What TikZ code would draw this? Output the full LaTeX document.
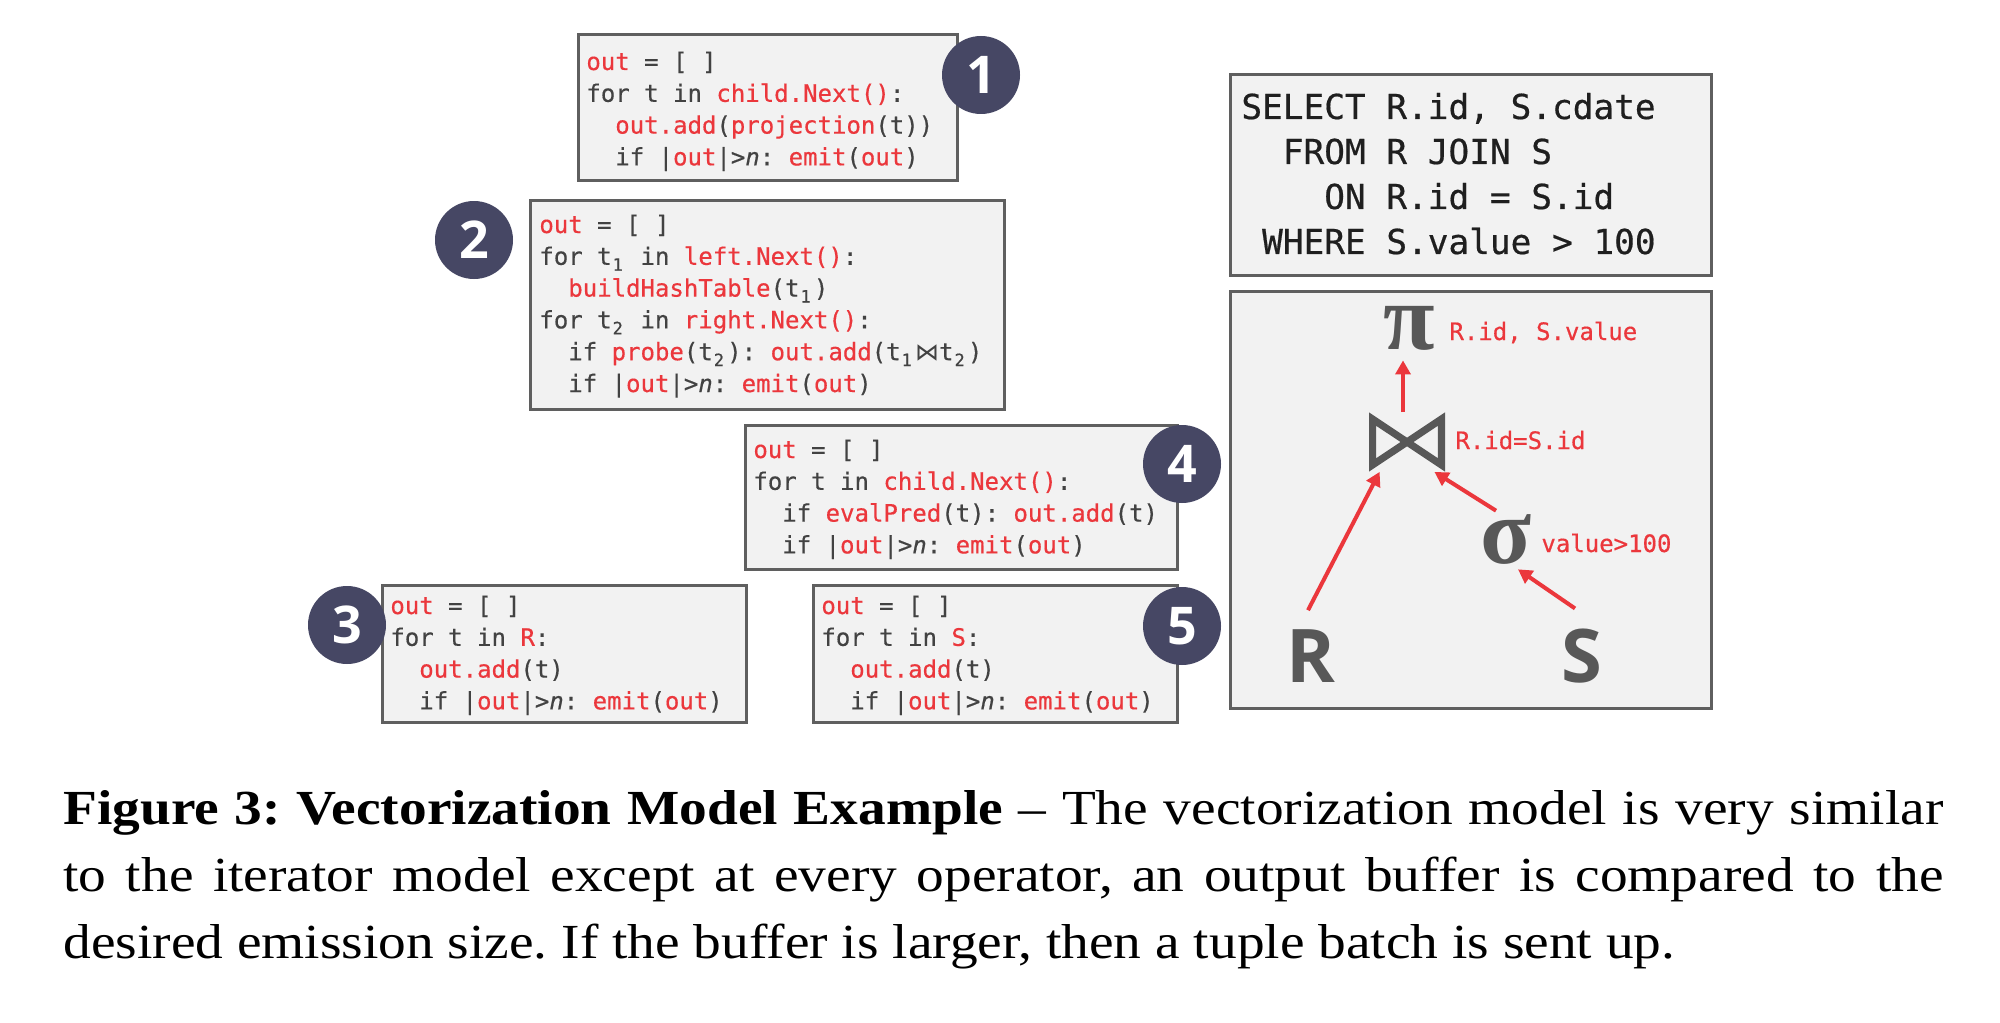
\documentclass[tikz,border=0pt]{standalone}
\usepackage{fontspec}
\usetikzlibrary{arrows.meta}
\setmainfont{Liberation Serif}[FakeStretch=1.13]
\newfontfamily\codefont{DejaVu Sans Mono}[FakeBold=0.5]
\newfontfamily\symfont{DejaVu Sans}
\newfontfamily\numfont{Open Sans}
\newfontfamily\grfont{Liberation Serif}
\definecolor{cred}{RGB}{235,55,60}
\definecolor{cgray}{RGB}{66,66,66}
\definecolor{cbord}{RGB}{95,95,95}
\definecolor{cfill}{RGB}{242,242,242}
\definecolor{cnavy}{RGB}{70,71,100}
\definecolor{csym}{RGB}{88,88,88}
\newcommand\rd[1]{\textcolor{cred}{#1}}
\newcommand\sbs[1]{\rlap{\kern0.5pt\raisebox{-0.45ex}{\fontsize{8.5pt}{8.5pt}\selectfont #1}}\hphantom{0}}
\newcommand\nn{{\itshape n}}
\newcommand\ind{\hphantom{00}}
\tikzset{
  x=0.5pt, y=-0.5pt,
  codebox/.style={draw=cbord, line width=1.5pt, fill=cfill, inner sep=0pt, rectangle},
  codetext/.style={anchor=base west, inner sep=0pt, text=cgray,
    font=\codefont\fontsize{12pt}{15.9pt}\selectfont\frenchspacing},
  num/.style={circle, fill=cnavy, minimum size=39pt, inner sep=0pt, text=white,
    font=\numfont\bfseries\fontsize{26pt}{26pt}\selectfont},
  lbl/.style={anchor=base west, inner sep=0pt, text=cred,
    font=\codefont\fontsize{12pt}{12pt}\selectfont},
  grk/.style={inner sep=0pt, text=csym, font=\grfont\bfseries\fontsize{47pt}{47pt}\selectfont},
  rel/.style={inner sep=0pt, text=csym, font=\numfont\bfseries\fontsize{37pt}{37pt}\selectfont},
  arr/.style={draw=cred, line width=2pt, -{Triangle[length=7pt,width=7.5pt]}},
  captxt/.style={anchor=base west, inner sep=0pt, font=\fontsize{24.5pt}{24.5pt}\selectfont\frenchspacing},
}
\newcommand\bx[5]{\node[codebox, minimum width={(#4-#2)*0.5pt}, minimum height={(#5-#3)*0.5pt}] (#1) at ({(#2+#4)/2},{(#3+#5)/2}) {};}
\begin{document}
\begin{tikzpicture}
\useasboundingbox (0,0) rectangle (2000,1022);
\fill[white] (0,0) rectangle (2000,1022);
% code boxes
\bx{b1}{578}{35}{957}{180}
\bx{b2}{530}{200}{1004}{409}
\bx{b4}{745}{425}{1177}{569}
\bx{b3}{382}{585}{746}{722}
\bx{b5}{813}{585}{1177}{722}
\bx{sql}{1230}{75}{1711}{275}
\bx{tree}{1230}{291}{1711}{708}
% code texts
\node[codetext] (t1) at (586,70) {\vtop{%
\hbox{\rd{out} = [ ]}
\hbox{for t in \rd{child.Next()}:}
\hbox{\ind\rd{out.add}(\rd{projection}(t))}
\hbox{\ind if |\rd{out}|>\nn: \rd{emit}(\rd{out})}}};
\node[codetext] (t2) at (539,233) {\vtop{%
\hbox{\rd{out} = [ ]}
\hbox{for t\sbs{1} in \rd{left.Next()}:}
\hbox{\ind\rd{buildHashTable}(t\sbs{1})}
\hbox{for t\sbs{2} in \rd{right.Next()}:}
\hbox{\ind if \rd{probe}(t\sbs{2}): \rd{out.add}(t\sbs{1}{\symfont ⋈}t\sbs{2})}
\hbox{\ind if |\rd{out}|>\nn: \rd{emit}(\rd{out})}}};
\node[codetext] (t4) at (753,458) {\vtop{%
\hbox{\rd{out} = [ ]}
\hbox{for t in \rd{child.Next()}:}
\hbox{\ind if \rd{evalPred}(t): \rd{out.add}(t)}
\hbox{\ind if |\rd{out}|>\nn: \rd{emit}(\rd{out})}}};
\node[codetext] (t3) at (390,614) {\vtop{%
\hbox{\rd{out} = [ ]}
\hbox{for t in \rd{R}:}
\hbox{\ind\rd{out.add}(t)}
\hbox{\ind if |\rd{out}|>\nn: \rd{emit}(\rd{out})}}};
\node[codetext] (t5) at (821,614) {\vtop{%
\hbox{\rd{out} = [ ]}
\hbox{for t in \rd{S}:}
\hbox{\ind\rd{out.add}(t)}
\hbox{\ind if |\rd{out}|>\nn: \rd{emit}(\rd{out})}}};
% numbers
\node[num] (n1) at (981,75) {1};
\node[num] (n2) at (474,240) {2};
\node[num] (n3) at (347,625) {3};
\node[num] (n4) at (1182,464) {4};
\node[num] (n5) at (1182,626) {5};
% SQL
\node[codetext, text=black!88, font=\codefont\fontsize{17.2pt}{22.5pt}\selectfont] (q) at (1241,119) {\vtop{%
\hbox{SELECT R.id, S.cdate}
\hbox{\ind FROM R JOIN S}
\hbox{\ind\ind ON R.id = S.id}
\hbox{\hphantom{0}WHERE S.value > 100}}};
% tree
\node[grk] (pi) at (1409,328) {π};
\node[grk] (sg) at (1506,539) {σ};
\node[rel] (R) at (1311,656) {R};
\node[rel] (S) at (1582,656) {S};
\node[minimum width=34pt, minimum height=22.5pt, inner sep=0pt] (join) at (1407,442) {};
\draw[csym, line width=3.6pt, line join=miter] (join.north west) -- (join.south east) -- (join.north east) -- (join.south west) -- cycle;
\node[lbl] (lpi) at (1449,340) {R.id, S.value};
\node[lbl] (ljn) at (1455,449) {R.id=S.id};
\node[lbl] (lsg) at (1541,552) {value>100};
\draw[arr] ([shift={(-2pt,3.5pt)}]join.north) -- ([shift={(-3pt,-5pt)}]pi.south);
\draw[arr] ([shift={(-1.5pt,9.5pt)}]R.north) -- ([shift={(3.5pt,-3.5pt)}]join.south west);
\draw[arr] ([shift={(-5pt,1.5pt)}]sg.north) -- ([shift={(-3.5pt,-3.5pt)}]join.south east);
\draw[arr] ([shift={(-3.5pt,10pt)}]S.north) -- ([shift={(6pt,-2.5pt)}]sg.south);
% caption
\node[captxt] (c1) at (63,824) {\makebox[940pt][s]{\textbf{Figure 3: Vectorization Model Example} – The vectorization model is very similar}};
\node[captxt] (c2) at (63,891) {\makebox[940pt][s]{to the iterator model except at every operator, an output buffer is compared to the}};
\node[captxt] (c3) at (63,958) {desired emission size. If the buffer is larger, then a tuple batch is sent up.};
\end{tikzpicture}
\end{document}
